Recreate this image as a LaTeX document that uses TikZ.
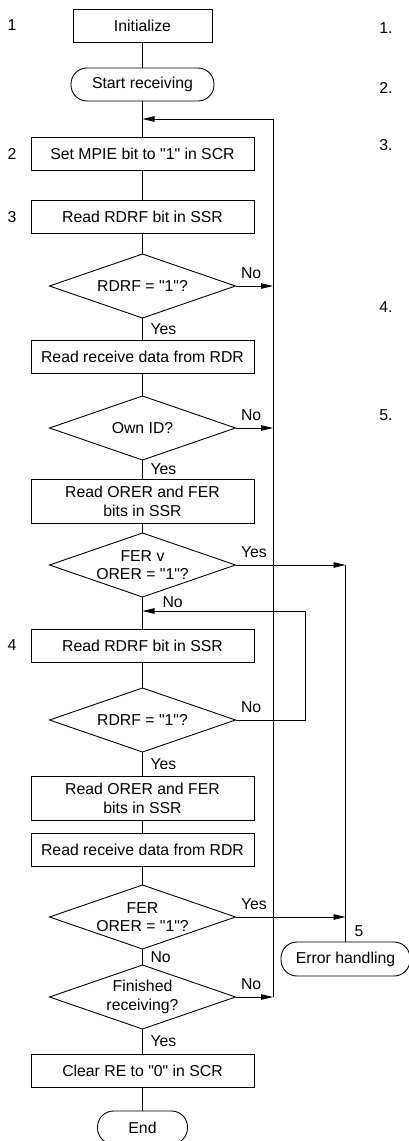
\documentclass[tikz,border=0pt]{standalone}
\usepackage{fontspec}
\setmainfont{Liberation Sans}[Ligatures=TeXOff]
\usepackage{tikz}
\usetikzlibrary{arrows.meta,positioning,shapes.geometric}

\begin{document}
\begin{tikzpicture}[
    x=1pt, y=-1pt,
    font=\fontsize{15.8}{18.7}\selectfont,
    line width=0.9pt,
    box/.style={draw, align=center, minimum width=223pt, minimum height=33pt, inner sep=2pt, outer sep=0pt},
    tall/.style={box, minimum height=44pt},
    term/.style={draw, rounded corners=16pt, minimum height=33pt, inner sep=2pt, outer sep=0pt},
    test/.style={draw, diamond, aspect=2.9, align=center, inner sep=0pt, outer sep=0pt, minimum width=186pt, minimum height=64pt},
    line/.style={-{Triangle[length=12pt,width=5.5pt]}},
    tag/.style={inner sep=0pt, outer sep=0pt},
    side/.style={tag, anchor=south west, xshift=5.5pt, yshift=7pt}
]
\useasboundingbox (0,0) rectangle (409,1141);

\node[box, minimum width=139pt] (init) at (142.5,25.5) {Initialize};
\node[term, minimum width=143pt, below=26pt of init] (start) {Start receiving};
\node[box, below=36pt of start] (mpie) {Set MPIE bit to "1" in SCR};
\node[box, below=30pt of mpie] (rdrf) {Read RDRF bit in SSR};
\node[test, below=21pt of rdrf] (rdrfq) {RDRF = "1"?};
\node[box, below=22pt of rdrfq] (rdr) {Read receive data from RDR};
\node[test, below=23pt of rdr] (idq) {Own ID?};
\node[tall, below=19pt of idq] (orer) {Read ORER and FER\\bits in SSR};
\node[test, below=10pt of orer] (ferq) {FER v\\ORER = "1"?};
\node[box, below=32pt of ferq] (rdrfb) {Read RDRF bit in SSR};
\node[test, below=26pt of rdrfb] (rdrfqb) {RDRF = "1"?};
\node[tall, below=24pt of rdrfqb] (orerb) {Read ORER and FER\\bits in SSR};
\node[box, below=13pt of orerb] (rdrb) {Read receive data from RDR};
\node[test, below=19pt of rdrb] (ferqb) {FER\\ORER = "1"?};
\node[test, below=16pt of ferqb] (finq) {Finished\\receiving?};
\node[box, below=25pt of finq] (clear) {Clear RE to "0" in SCR};
\node[term, minimum width=90pt, below=24pt of clear] (done) {End};

\node[term, minimum width=129pt, minimum height=34pt] (err) at (345.5,959) {Error handling};

% step numbers
\node[tag] (n1) at (12,25.5) {1};
\node[tag] (n2) at (12,153.5) {2};
\node[tag] (n3) at (12,217) {3};
\node[tag] (n4) at (12,645.5) {4};
\node[tag] (n5) at (359,931) {5};
\node[tag] (r1) at (386,28) {1.};
\node[tag] (r2) at (386,88) {2.};
\node[tag] (r3) at (386,145) {3.};
\node[tag] (r4) at (386,307) {4.};
\node[tag] (r5) at (386,415) {5.};

\coordinate (loop) at (273,119);
\coordinate (join) at (142.5,119);
\coordinate (inner) at (305,611);

\draw (init) -- (start);
\draw (start) -- (mpie);
\draw (mpie) -- (rdrf);
\draw (rdrf) -- (rdrfq);
\draw (rdrfq) -- node[tag, right=8pt] {Yes} (rdr);
\draw (rdr) -- (idq);
\draw (idq) -- node[tag, right=8pt] {Yes} (orer);
\draw (orer) -- (ferq);
\draw (ferq) -- (rdrfb);
\node[tag, anchor=west, xshift=20pt, yshift=-5pt] at (ferq.south) {No};
\draw (rdrfb) -- (rdrfqb);
\draw (rdrfqb) -- node[tag, right=8pt] {Yes} (orerb);
\draw (orerb) -- (rdrb);
\draw (rdrb) -- (ferqb);
\draw (ferqb) -- node[tag, right=8pt] {No} (finq);
\draw (finq) -- node[tag, right=8pt] {Yes} (clear);
\draw (clear) -- (done);

\draw[line] (rdrfq.east) -- node[side, at start] {No} (rdrfq.east -| loop);
\draw[line] (idq.east) -- node[side, at start] {No} (idq.east -| loop);
\draw[line] (finq.east) -- node[side, at start] {No} (finq.east -| loop);
\draw[line] (finq.east -| loop) -- (loop) -- (join);

\draw[line] (rdrfqb.east) -- node[side, at start] {No} (rdrfqb.east -| inner) -- (inner) -- (join |- inner);

\draw[line] (ferq.east) -- node[side, at start] {Yes} (ferq.east -| err.north);
\draw[line] (ferqb.east) -- node[side, at start] {Yes} (ferqb.east -| err.north);
\draw (ferq.east -| err.north) -- (err.north);
\end{tikzpicture}
\end{document}
